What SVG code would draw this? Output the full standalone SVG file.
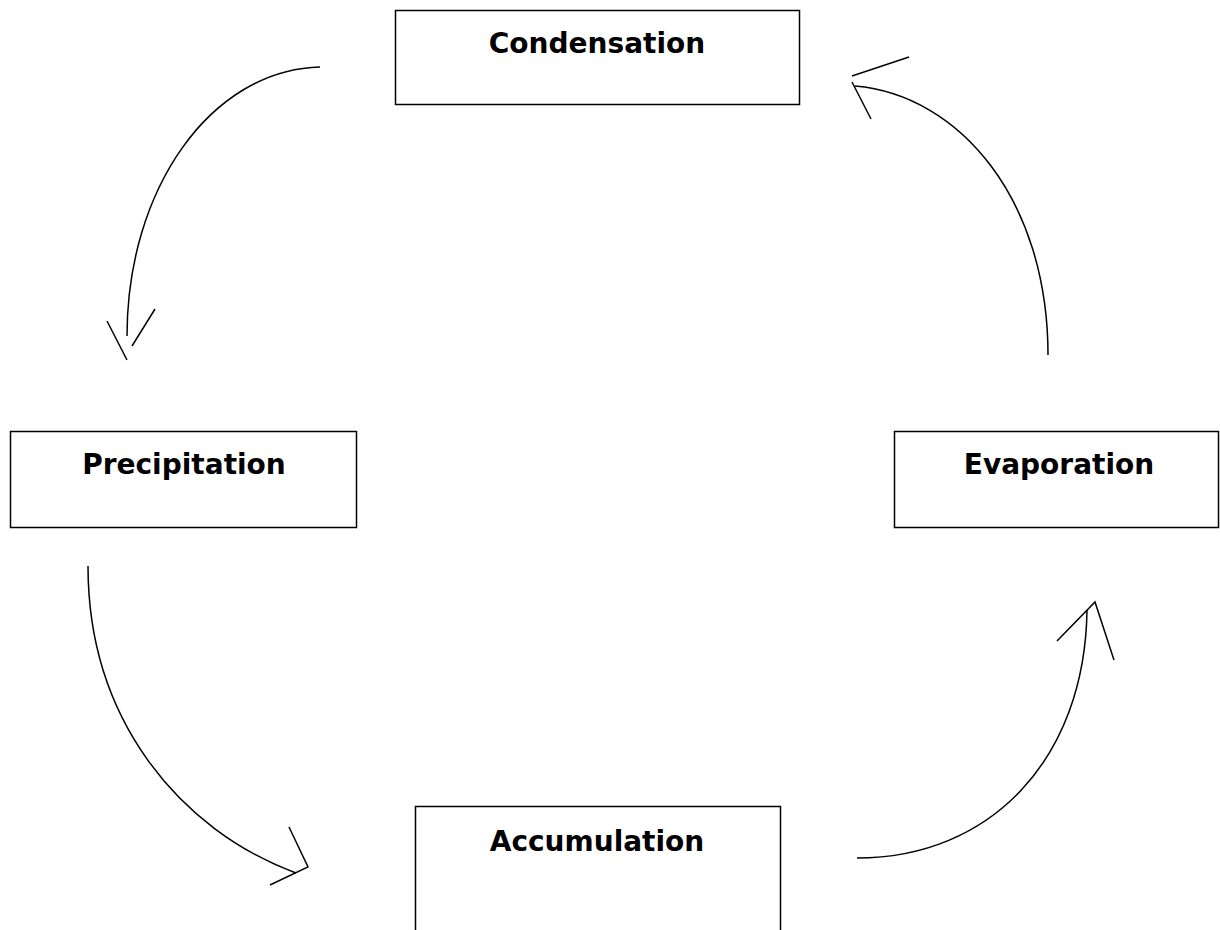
<svg xmlns="http://www.w3.org/2000/svg" width="1220" height="930" viewBox="0 0 1220 930">
<style>
.box{fill:#fff;stroke:#000;stroke-width:1.5}
.lbl{font-family:"DejaVu Sans",Verdana,sans-serif;font-weight:bold;font-size:28px;fill:#000;text-anchor:middle}
.c{fill:none;stroke:#000;stroke-width:1.5}
</style>
<rect width="1220" height="930" fill="#fff"/>
<g id="condensation"><rect class="box" x="395.5" y="10.5" width="404" height="94"/><text class="lbl" x="597" y="53">Condensation</text></g>
<g id="precipitation"><rect class="box" x="10.5" y="431.5" width="346" height="96"/><text class="lbl" x="184" y="474">Precipitation</text></g>
<g id="evaporation"><rect class="box" x="894.5" y="431.5" width="324" height="96"/><text class="lbl" x="1059" y="474">Evaporation</text></g>
<g id="accumulation"><rect class="box" x="415.5" y="806.5" width="365" height="130"/><text class="lbl" x="597" y="851">Accumulation</text></g>
<g id="connectors">
<path class="c" d="M320,67 C210,70 127,190 127,336"/>
<path class="c" d="M107,321 L127,360 M155,309 L132,346"/>
<path class="c" d="M88,566 C88,720 180,830 296,873"/>
<path class="c" d="M289,827 L308,867 L270,885"/>
<path class="c" d="M857,858 C990,858 1085,760 1087,610"/>
<path class="c" d="M1057,641 L1095,602 L1114,660"/>
<path class="c" d="M1048,355 C1048,200 960,95 855,86"/>
<path class="c" d="M852,76 L909,57 M852,82 L871,119"/>
</g>
</svg>
